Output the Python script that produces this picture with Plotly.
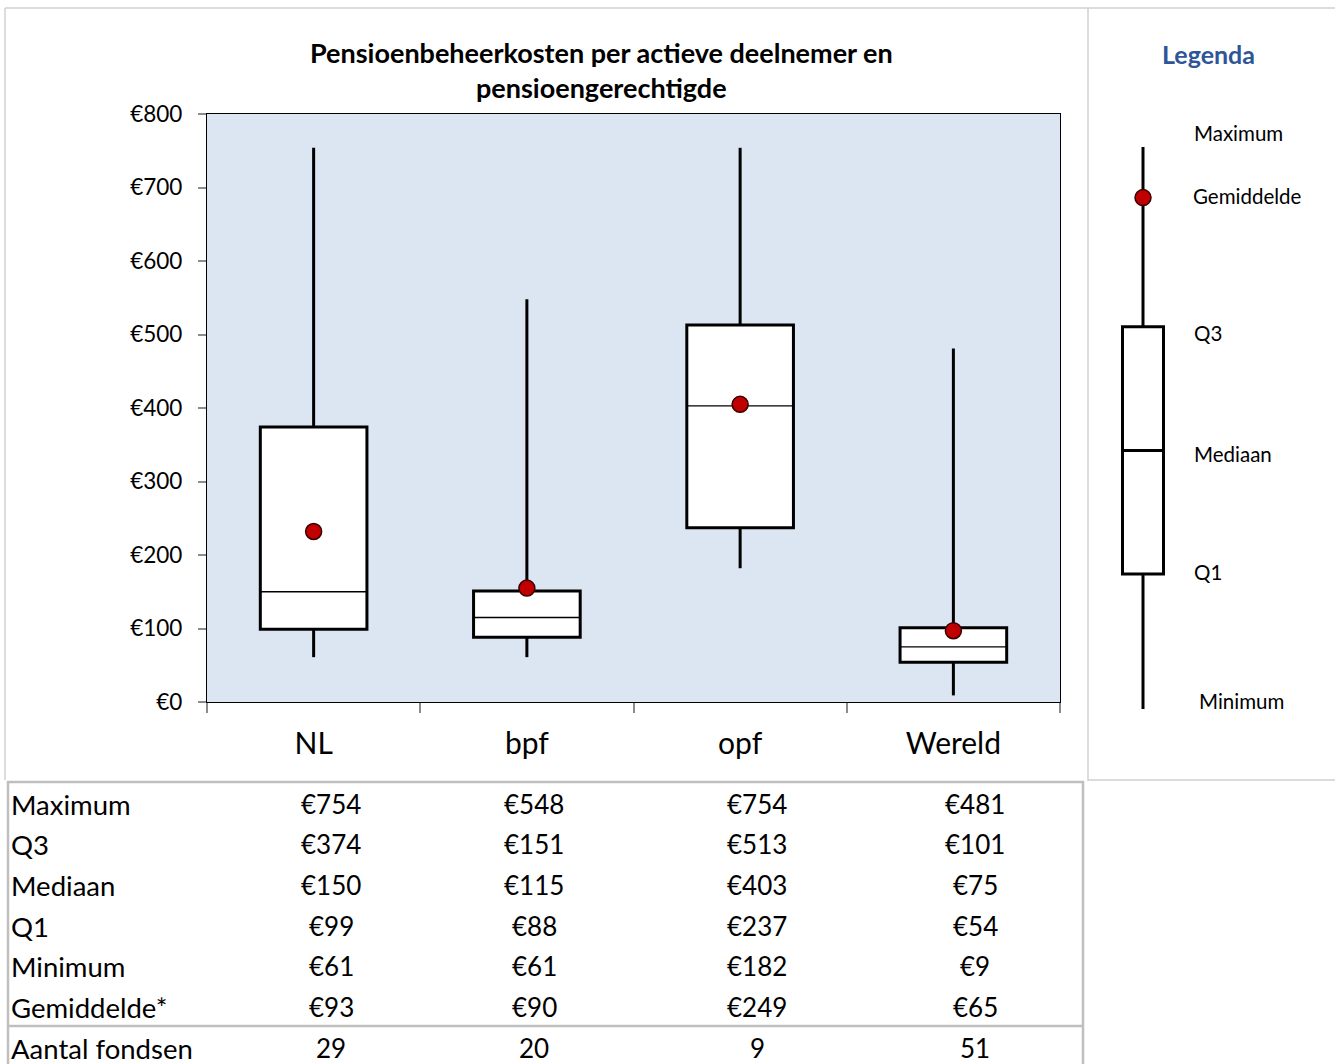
import plotly.graph_objects as go

# ---- data -------------------------------------------------------------
categories = ["NL", "bpf", "opf", "Wereld"]
maximum = [754, 548, 754, 481]
q3 = [374, 151, 513, 101]
median = [150, 115, 403, 75]
q1 = [99, 88, 237, 54]
minimum = [61, 61, 182, 9]
mean_dot = [232, 155, 405, 97]
table_mean = [93, 90, 249, 65]
n_funds = [29, 20, 9, 51]

row_labels = ["Maximum", "Q3", "Mediaan", "Q1", "Minimum", "Gemiddelde*", "Aantal fondsen"]
y_ticks = [0, 100, 200, 300, 400, 500, 600, 700, 800]
y_tick_text = [f"€{v}" for v in y_ticks]

# schematic key: relative positions of the statistics on a 0-100 scale
key_min, key_q1, key_median, key_q3, key_mean, key_max = 0, 24, 46, 68, 91, 100

# ---- layout helpers -----------------------------------------------------
W, H = 1335, 1064
FONT = "Lato"


def px(x):
    return x / W


def py(y):
    return 1 - y / H


fig = go.Figure()
BOX_HALF = 0.25

# plot-area background (only the main panel is tinted)
shapes = [dict(type="rect", xref="x domain", yref="y domain", x0=0, x1=1, y0=0, y1=1,
               fillcolor="#DCE6F2", line=dict(width=0), layer="below")]

for i in range(len(categories)):
    shapes.append(dict(type="line", xref="x", yref="y", x0=i, x1=i, y0=minimum[i], y1=q1[i],
                       line=dict(color="black", width=3), layer="below"))
    shapes.append(dict(type="line", xref="x", yref="y", x0=i, x1=i, y0=q3[i], y1=maximum[i],
                       line=dict(color="black", width=3), layer="below"))
    shapes.append(dict(type="rect", xref="x", yref="y", x0=i - BOX_HALF, x1=i + BOX_HALF,
                       y0=q1[i], y1=q3[i], fillcolor="white",
                       line=dict(color="black", width=3), layer="below"))
    shapes.append(dict(type="line", xref="x", yref="y", x0=i - BOX_HALF, x1=i + BOX_HALF,
                       y0=median[i], y1=median[i], line=dict(color="black", width=1.3),
                       layer="below"))

fig.add_trace(go.Scatter(
    x=categories, y=mean_dot, mode="markers",
    marker=dict(size=16, color="#C00000", line=dict(color="#3a0000", width=1.5)),
    showlegend=False, hoverinfo="skip", xaxis="x", yaxis="y"))

# key box plot
shapes += [
    dict(type="line", xref="x2", yref="y2", x0=0, x1=0, y0=key_min, y1=key_q1,
         line=dict(color="black", width=3), layer="below"),
    dict(type="line", xref="x2", yref="y2", x0=0, x1=0, y0=key_q3, y1=key_max,
         line=dict(color="black", width=3), layer="below"),
    dict(type="rect", xref="x2", yref="y2", x0=-BOX_HALF, x1=BOX_HALF, y0=key_q1, y1=key_q3,
         fillcolor="white", line=dict(color="black", width=3), layer="below"),
    dict(type="line", xref="x2", yref="y2", x0=-BOX_HALF, x1=BOX_HALF, y0=key_median,
         y1=key_median, line=dict(color="black", width=3), layer="below"),
]
fig.add_trace(go.Scatter(
    x=[0], y=[key_mean], mode="markers",
    marker=dict(size=16, color="#C00000", line=dict(color="#3a0000", width=1.5)),
    showlegend=False, hoverinfo="skip", xaxis="x2", yaxis="y2"))

# panel and table frames
GREY = "#D0D0D0"
TGREY = "#BFBFBF"
shapes += [
    dict(type="line", xref="paper", yref="paper", x0=px(5), x1=1, y0=py(8), y1=py(8),
         line=dict(color=GREY, width=1.5)),
    dict(type="line", xref="paper", yref="paper", x0=px(5), x1=px(5), y0=py(8), y1=py(780),
         line=dict(color=GREY, width=1.5)),
    dict(type="line", xref="paper", yref="paper", x0=px(1088), x1=px(1088), y0=py(8), y1=py(781),
         line=dict(color=GREY, width=1.5)),
    dict(type="line", xref="paper", yref="paper", x0=px(1088), x1=1, y0=py(780), y1=py(780),
         line=dict(color=GREY, width=1.5)),
    dict(type="rect", xref="paper", yref="paper", x0=px(8), x1=px(1083), y0=py(782), y1=py(1070),
         line=dict(color=TGREY, width=2.5)),
    dict(type="line", xref="paper", yref="paper", x0=px(8), x1=px(1083), y0=py(1026), y1=py(1026),
         line=dict(color=TGREY, width=2.5)),
]

annotations = []
# title
for txt, y in [("<b>Pensioenbeheerkosten per actieve deelnemer en</b>", 52),
               ("<b>pensioengerechtigde</b>", 88)]:
    annotations.append(dict(xref="paper", yref="paper", x=px(601), y=py(y), text=txt,
                            showarrow=False, font=dict(family=FONT, size=27, color="black"),
                            xanchor="center", yanchor="middle"))
# key heading and labels
annotations.append(dict(xref="paper", yref="paper", x=px(1208), y=py(54), text="<b>Legenda</b>",
                        showarrow=False, font=dict(family=FONT, size=25, color="#2E5597"),
                        xanchor="center", yanchor="middle"))
key_labels = [("Maximum", 1193, 133), ("Gemiddelde", 1192, 196), ("Q3", 1193, 333),
              ("Mediaan", 1193, 454), ("Q1", 1193, 572), ("Minimum", 1198, 701)]
for txt, x, y in key_labels:
    annotations.append(dict(xref="paper", yref="paper", x=px(x - 1), y=py(y), text=txt,
                            showarrow=False, font=dict(family=FONT, size=20.5, color="black"),
                            xanchor="left", yanchor="middle"))

# statistics table
col_x = [331, 534, 757, 975]
row_y = [804, 844, 885, 926, 966, 1007, 1048]
rows = [maximum, q3, median, q1, minimum, table_mean]
for r, label in enumerate(row_labels):
    annotations.append(dict(xref="paper", yref="paper", x=px(9), y=py(row_y[r]), text=label,
                            showarrow=False, font=dict(family=FONT, size=27.5, color="black"),
                            xanchor="left", yanchor="middle"))
    for c in range(len(categories)):
        txt = f"€{rows[r][c]}" if r < len(rows) else str(n_funds[c])
        annotations.append(dict(xref="paper", yref="paper", x=px(col_x[c]), y=py(row_y[r]),
                                text=txt, showarrow=False,
                                font=dict(family=FONT, size=26, color="black"),
                                xanchor="center", yanchor="middle"))

fig.update_layout(
    template="none",
    width=W, height=H,
    margin=dict(l=0, r=0, t=0, b=0, pad=0, autoexpand=False),
    paper_bgcolor="white",
    plot_bgcolor="white",
    showlegend=False,
    font=dict(family=FONT, color="black"),
    xaxis=dict(
        domain=[px(207), px(1060)],
        type="category", categoryorder="array", categoryarray=categories,
        range=[-0.5, len(categories) - 0.5],
        tickson="boundaries", ticks="outside", ticklen=10, tickcolor="#8C8C8C", tickwidth=1.5,
        showline=True, linecolor="black", linewidth=1.2, mirror=True,
        showgrid=False, zeroline=False, automargin=False,
        tickfont=dict(family=FONT, size=30, color="black"),
        ticklabelstandoff=15,
        fixedrange=True,
    ),
    yaxis=dict(
        domain=[py(702), py(114)],
        range=[0, 800], tickmode="array", tickvals=y_ticks, ticktext=y_tick_text,
        ticks="outside", ticklen=8, tickcolor="#8C8C8C", tickwidth=1.5,
        showline=True, linecolor="black", linewidth=1.2, mirror=True,
        showgrid=False, zeroline=False, automargin=False,
        tickfont=dict(family=FONT, size=22.5, color="black"),
        ticklabelstandoff=11,
        fixedrange=True,
    ),
    xaxis2=dict(domain=[px(1102), px(1184)], range=[-0.5, 0.5], visible=False,
                anchor="y2", fixedrange=True, automargin=False),
    yaxis2=dict(domain=[py(709), py(147)], range=[0, 100], visible=False,
                anchor="x2", fixedrange=True, automargin=False),
    shapes=shapes,
    annotations=annotations,
)

fig.write_html("out.html")
